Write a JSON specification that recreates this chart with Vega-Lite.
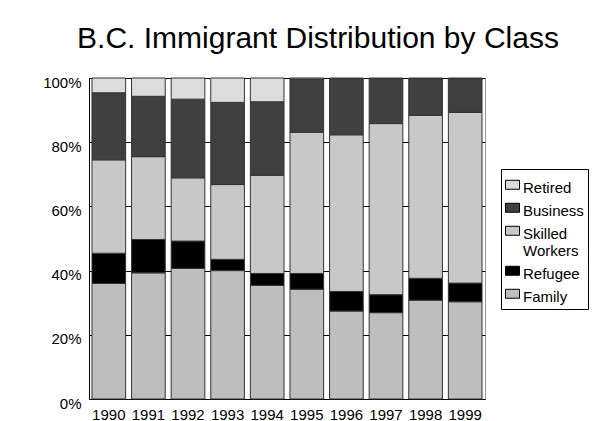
{
  "$schema": "https://vega.github.io/schema/vega-lite/v6.json",
  "width": 396,
  "height": 321,
  "autosize": {"type": "none"},
  "padding": {"left": 89, "top": 78, "right": 128, "bottom": 22},
  "background": "white",
  "title": {
    "text": "B.C. Immigrant Distribution by Class",
    "font": "Liberation Sans",
    "fontSize": 30,
    "fontWeight": "normal",
    "color": "black",
    "anchor": "middle",
    "baseline": "alphabetic",
    "dx": 31,
    "offset": -3
  },
  "data": {
    "values": [
      {"year": "1990", "class": "Family", "share": 36.0, "rank": 1},
      {"year": "1990", "class": "Refugee", "share": 9.4, "rank": 2},
      {"year": "1990", "class": "Skilled Workers", "share": 29.1, "rank": 3},
      {"year": "1990", "class": "Business", "share": 20.9, "rank": 4},
      {"year": "1990", "class": "Retired", "share": 4.6, "rank": 5},
      {"year": "1991", "class": "Family", "share": 39.3, "rank": 1},
      {"year": "1991", "class": "Refugee", "share": 10.4, "rank": 2},
      {"year": "1991", "class": "Skilled Workers", "share": 25.8, "rank": 3},
      {"year": "1991", "class": "Business", "share": 18.8, "rank": 4},
      {"year": "1991", "class": "Retired", "share": 5.7, "rank": 5},
      {"year": "1992", "class": "Family", "share": 40.7, "rank": 1},
      {"year": "1992", "class": "Refugee", "share": 8.5, "rank": 2},
      {"year": "1992", "class": "Skilled Workers", "share": 19.7, "rank": 3},
      {"year": "1992", "class": "Business", "share": 24.5, "rank": 4},
      {"year": "1992", "class": "Retired", "share": 6.6, "rank": 5},
      {"year": "1993", "class": "Family", "share": 40.0, "rank": 1},
      {"year": "1993", "class": "Refugee", "share": 3.5, "rank": 2},
      {"year": "1993", "class": "Skilled Workers", "share": 23.3, "rank": 3},
      {"year": "1993", "class": "Business", "share": 25.6, "rank": 4},
      {"year": "1993", "class": "Retired", "share": 7.6, "rank": 5},
      {"year": "1994", "class": "Family", "share": 35.4, "rank": 1},
      {"year": "1994", "class": "Refugee", "share": 3.7, "rank": 2},
      {"year": "1994", "class": "Skilled Workers", "share": 30.6, "rank": 3},
      {"year": "1994", "class": "Business", "share": 22.9, "rank": 4},
      {"year": "1994", "class": "Retired", "share": 7.4, "rank": 5},
      {"year": "1995", "class": "Family", "share": 34.2, "rank": 1},
      {"year": "1995", "class": "Refugee", "share": 4.9, "rank": 2},
      {"year": "1995", "class": "Skilled Workers", "share": 44.0, "rank": 3},
      {"year": "1995", "class": "Business", "share": 16.6, "rank": 4},
      {"year": "1995", "class": "Retired", "share": 0.3, "rank": 5},
      {"year": "1996", "class": "Family", "share": 27.4, "rank": 1},
      {"year": "1996", "class": "Refugee", "share": 6.1, "rank": 2},
      {"year": "1996", "class": "Skilled Workers", "share": 48.8, "rank": 3},
      {"year": "1996", "class": "Business", "share": 17.5, "rank": 4},
      {"year": "1996", "class": "Retired", "share": 0.2, "rank": 5},
      {"year": "1997", "class": "Family", "share": 26.9, "rank": 1},
      {"year": "1997", "class": "Refugee", "share": 5.6, "rank": 2},
      {"year": "1997", "class": "Skilled Workers", "share": 53.3, "rank": 3},
      {"year": "1997", "class": "Business", "share": 14.0, "rank": 4},
      {"year": "1997", "class": "Retired", "share": 0.2, "rank": 5},
      {"year": "1998", "class": "Family", "share": 30.8, "rank": 1},
      {"year": "1998", "class": "Refugee", "share": 6.8, "rank": 2},
      {"year": "1998", "class": "Skilled Workers", "share": 50.8, "rank": 3},
      {"year": "1998", "class": "Business", "share": 11.4, "rank": 4},
      {"year": "1998", "class": "Retired", "share": 0.2, "rank": 5},
      {"year": "1999", "class": "Family", "share": 30.3, "rank": 1},
      {"year": "1999", "class": "Refugee", "share": 5.8, "rank": 2},
      {"year": "1999", "class": "Skilled Workers", "share": 53.2, "rank": 3},
      {"year": "1999", "class": "Business", "share": 10.5, "rank": 4},
      {"year": "1999", "class": "Retired", "share": 0.2, "rank": 5}
    ]
  },
  "mark": {"type": "bar", "stroke": "#333333", "strokeWidth": 1},
  "encoding": {
    "x": {
      "field": "year",
      "type": "ordinal",
      "scale": {"paddingInner": 0.15, "paddingOuter": 0.075},
      "axis": {"title": null, "labelAngle": 0, "labelPadding": 8, "grid": false}
    },
    "y": {
      "field": "share",
      "type": "quantitative",
      "stack": "normalize",
      "axis": {
        "title": null,
        "format": ".0%",
        "values": [0, 0.2, 0.4, 0.6, 0.8, 1],
        "grid": true,
        "gridColor": "black",
        "gridOpacity": 1,
        "labelPadding": 8,
        "labelOffset": 4
      }
    },
    "color": {
      "field": "class",
      "type": "nominal",
      "scale": {
        "domain": ["Retired", "Business", "Skilled Workers", "Refugee", "Family"],
        "range": ["#dcdcdc", "#404040", "#c8c8c8", "#000000", "#bebebe"]
      },
      "legend": {
        "title": null,
        "orient": "none",
        "legendX": 412,
        "legendY": 91,
        "strokeColor": "black",
        "fillColor": "white",
        "padding": 4,
        "symbolType": "M-1,-0.03H1V1.25H-1Z",
        "symbolSize": 196,
        "symbolStrokeColor": "black",
        "symbolStrokeWidth": 1,
        "symbolOpacity": 1,
        "labelFont": "Liberation Sans",
        "labelFontSize": 15,
        "labelColor": "black",
        "labelOffset": 3,
        "labelLimit": 200,
        "labelBaseline": "top",
        "rowPadding": 0,
        "labelExpr": "datum.label == 'Skilled Workers' ? ['Skilled', 'Workers'] : datum.label",
        "encoding": {
          "labels": {"update": {"lineHeight": {"value": 18}}}
        }
      }
    },
    "order": {"field": "rank", "type": "quantitative"}
  },
  "config": {
    "font": "Liberation Sans",
    "view": {"stroke": "#999999"},
    "axis": {
      "labelFont": "Liberation Sans",
      "labelFontSize": 15,
      "labelColor": "black",
      "domainColor": "black",
      "ticks": false
    }
  }
}
